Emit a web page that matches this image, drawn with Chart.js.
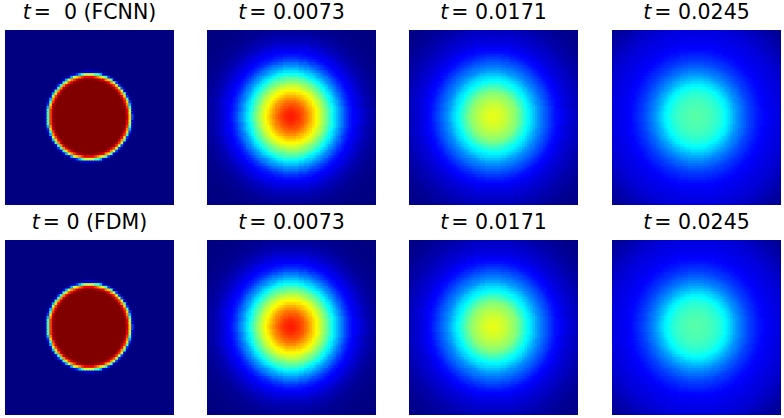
<!DOCTYPE html>
<html lang="en">
<head>
<meta charset="UTF-8">
<title>Heat diffusion FCNN vs FDM</title>
<script src="https://cdn.jsdelivr.net/npm/chart.js"></script>
<style>
    body { margin: 0; background: #fff; width: 784px; height: 418px; position: relative; overflow: hidden; }
    canvas { position: absolute; }
    .ttl {
        position: absolute; width: 200px; text-align: center; white-space: pre;
        font-family: "DejaVu Sans", sans-serif; font-size: 20.5px; line-height: 24px; color: #000;
    }
    .ttl i { margin-right: 3px; }
</style>
</head>
<body>
<script>
    // grid of the imshow picture
    const gridSize = 64;
    const centerCol = 31.65;
    const centerRow = 31.5;

    // radius (in cells) of each ring the values were read at
    const sharpRings = [0,13.5,13.75,14,14.25,14.5,14.75,15,15.25,15.5,15.75,16,16.25,16.5,16.75,17,17.25,46];
    const smoothRings = [0,.5,1,1.5,2,2.5,3,3.5,4,4.5,5,5.5,6,6.5,7,7.5,8,8.5,9,9.5,10,10.5,11,11.5,12,12.5,13,13.5,14,14.5,15,15.5,16,16.5,17,17.5,18,18.5,19,19.5,20,20.5,21,21.5,22,22.5,23,23.5,24,25,26,27,28,29,30,31,32,33,34,35,36,37,38,39,40,41,42,43,44,45,46];

    // value on each ring, one list per panel
    const fcnnT0 = [1,1,.98,.96,.93,.89,.82,.74,.66,.56,.44,.3,.18,.09,.04,.01,0,0];
    const fcnnT1 = [.85,.85,.845,.84,.835,.83,.82,.81,.80,.79,.78,.765,.75,.735,.72,.70,.685,.665,.65,.63,.615,.595,.58,.56,.54,.52,.50,.48,.46,.44,.415,.395,.37,.35,.33,.31,.29,.27,.25,.24,.22,.20,.185,.17,.155,.145,.135,.125,.118,.105,.09,.075,.06,.05,.04,.032,.025,.02,.015,.012,.01,.007,.005,.004,.003,.002,.001,.001,0,0,0];
    const fcnnT2 = [.60,.60,.60,.598,.595,.59,.585,.58,.575,.57,.565,.555,.55,.54,.535,.525,.52,.51,.50,.485,.47,.455,.44,.425,.41,.395,.38,.367,.355,.342,.33,.315,.30,.285,.27,.26,.25,.24,.23,.22,.21,.20,.19,.18,.17,.16,.15,.14,.135,.125,.11,.10,.09,.082,.075,.067,.06,.052,.045,.04,.035,.03,.025,.02,.017,.014,.012,.01,.008,.006,.005];
    const fcnnT3 = [.46,.46,.46,.458,.455,.455,.45,.45,.45,.448,.445,.44,.44,.435,.43,.425,.42,.415,.41,.402,.395,.385,.375,.365,.355,.342,.33,.317,.305,.292,.28,.27,.26,.25,.24,.232,.225,.215,.205,.197,.19,.182,.175,.17,.165,.157,.15,.145,.14,.13,.122,.115,.11,.105,.10,.097,.093,.088,.082,.075,.07,.063,.056,.05,.044,.038,.032,.027,.023,.02,.017];
    const fdmT0 = [1,1,.98,.96,.93,.89,.82,.74,.66,.56,.44,.3,.18,.09,.04,.01,0,0];
    const fdmT1 = [.85,.85,.845,.84,.835,.83,.82,.81,.80,.79,.78,.765,.75,.735,.72,.70,.685,.665,.65,.63,.615,.595,.58,.56,.54,.52,.50,.48,.46,.44,.415,.395,.37,.35,.33,.31,.29,.27,.25,.24,.22,.20,.185,.17,.155,.145,.135,.125,.118,.105,.09,.075,.06,.05,.04,.032,.025,.02,.015,.012,.01,.007,.005,.004,.003,.002,.001,.001,0,0,0];
    const fdmT2 = [.60,.60,.60,.598,.595,.59,.585,.58,.575,.57,.565,.555,.55,.54,.535,.525,.52,.51,.50,.485,.47,.455,.44,.425,.41,.395,.38,.367,.355,.342,.33,.315,.30,.285,.27,.26,.25,.24,.23,.22,.21,.20,.19,.18,.17,.16,.15,.14,.135,.125,.11,.10,.09,.082,.075,.067,.06,.052,.045,.04,.035,.03,.025,.02,.017,.014,.012,.01,.008,.006,.005];
    const fdmT3 = [.46,.46,.46,.458,.455,.455,.45,.45,.45,.448,.445,.44,.44,.435,.43,.425,.42,.415,.41,.402,.395,.385,.375,.365,.355,.342,.33,.317,.305,.292,.28,.27,.26,.25,.24,.232,.225,.215,.205,.197,.19,.182,.175,.17,.165,.157,.15,.145,.14,.13,.122,.115,.11,.105,.10,.097,.093,.088,.082,.075,.07,.063,.056,.05,.044,.038,.032,.027,.023,.02,.017];

    const titles = ['=  0 (FCNN)', '= 0.0073', '= 0.0171', '= 0.0245', '= 0 (FDM)', '= 0.0073', '= 0.0171', '= 0.0245'];
    const panelValues = [fcnnT0, fcnnT1, fcnnT2, fcnnT3, fdmT0, fdmT1, fdmT2, fdmT3];
    const panelRings = [sharpRings, smoothRings, smoothRings, smoothRings, sharpRings, smoothRings, smoothRings, smoothRings];

    const panelLeft = [5, 207, 409, 612];
    const panelTop = [30, 240];
    const panelW = 169;
    const panelH = 175;

    function jet(v) {
        const ch = (c) => Math.round(255 * Math.max(0, Math.min(1, 1.5 - Math.abs(4 * v - c))));
        return 'rgb(' + ch(3) + ',' + ch(2) + ',' + ch(1) + ')';
    }

    // nearest ring, no blending
    function ringValue(rings, values, r) {
        let best = 0;
        for (let i = 1; i < rings.length; i++) {
            if (Math.abs(rings[i] - r) < Math.abs(rings[best] - r)) best = i;
        }
        return values[best];
    }

    function buildCells(rings, values) {
        const cells = [];
        for (let row = 0; row < gridSize; row++) {
            for (let col = 0; col < gridSize; col++) {
                const r = Math.hypot(col - centerCol, row - centerRow);
                cells.push({ x: col, y: row, v: ringValue(rings, values, r) });
            }
        }
        return cells;
    }

    panelValues.forEach((values, idx) => {
        const left = panelLeft[idx % 4];
        const top = panelTop[idx < 4 ? 0 : 1];

        const label = document.createElement('div');
        label.className = 'ttl';
        label.style.left = (left + panelW / 2 - 100) + 'px';
        label.style.top = (top - 30) + 'px';
        const t = document.createElement('i');
        t.textContent = 't';
        label.appendChild(t);
        label.appendChild(document.createTextNode(titles[idx]));
        document.body.appendChild(label);

        const canvas = document.createElement('canvas');
        canvas.width = panelW;
        canvas.height = panelH;
        canvas.style.left = left + 'px';
        canvas.style.top = top + 'px';
        document.body.appendChild(canvas);

        new Chart(canvas.getContext('2d'), {
            type: 'scatter',
            data: {
                datasets: [{
                    data: buildCells(panelRings[idx], values),
                    pointStyle: 'rect',
                    pointRadius: 2.8,
                    pointBorderWidth: 0,
                    pointBackgroundColor: (ctx) => jet(ctx.raw.v)
                }]
            },
            options: {
                responsive: false,
                animation: false,
                events: [],
                layout: { padding: 0, autoPadding: false },
                plugins: { legend: { display: false }, tooltip: { enabled: false } },
                scales: {
                    x: { display: false, min: -0.5, max: gridSize - 0.5 },
                    y: { display: false, min: -0.5, max: gridSize - 0.5, reverse: true }
                }
            }
        });
    });
</script>
</body>
</html>
